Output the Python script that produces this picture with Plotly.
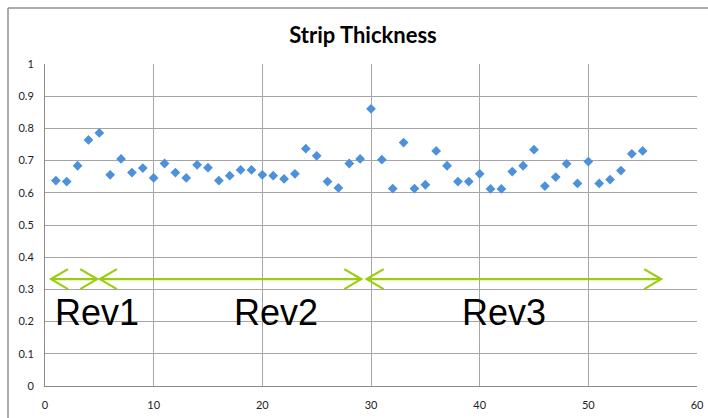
import plotly.graph_objects as go

# Strip thickness measurements, one per sample
sample_no = list(range(1, 56))
thickness = [
    0.638, 0.635, 0.684, 0.764, 0.786, 0.656, 0.705, 0.663, 0.677, 0.646,
    0.691, 0.663, 0.646, 0.687, 0.678, 0.638, 0.653, 0.671, 0.671, 0.656,
    0.653, 0.643, 0.659, 0.737, 0.715, 0.635, 0.615, 0.691, 0.705, 0.861,
    0.703, 0.613, 0.756, 0.613, 0.625, 0.730, 0.684, 0.635, 0.635, 0.659,
    0.612, 0.612, 0.666, 0.684, 0.734, 0.621, 0.649, 0.690, 0.629, 0.697,
    0.629, 0.641, 0.669, 0.721, 0.730,
]

# Revision spans (arrow extents along x) and their labels
rev_labels = ["Rev1", "Rev2", "Rev3"]
rev_start = [0.55, 5.05, 29.6]
rev_end = [4.8, 29.1, 56.7]
rev_label_x = [4.8, 21.3, 42.2]
arrow_y = 0.332
label_y = 0.227

# Axis ranges / ticks
x_range = [0, 60]
y_range = [0, 1]
x_ticks = [0, 10, 20, 30, 40, 50, 60]
y_ticks = [0, 0.1, 0.2, 0.3, 0.4, 0.5, 0.6, 0.7, 0.8, 0.9, 1]

W, H = 708, 418
M = dict(l=45, r=11, t=64, b=32)
plot_w = W - M["l"] - M["r"]
plot_h = H - M["t"] - M["b"]

# chevron size in pixels, converted to data units
head_px_x, head_px_y = 17, 10
hx = head_px_x * (x_range[1] - x_range[0]) / plot_w
hy = head_px_y * (y_range[1] - y_range[0]) / plot_h

ARROW = "#9acd0e"

fig = go.Figure()

for s, e in zip(rev_start, rev_end):
    xs = [s, e, None,
          s + hx, s, s + hx, None,
          e - hx, e, e - hx]
    ys = [arrow_y, arrow_y, None,
          arrow_y + hy, arrow_y, arrow_y - hy, None,
          arrow_y + hy, arrow_y, arrow_y - hy]
    fig.add_trace(go.Scatter(
        x=xs, y=ys, mode="lines",
        line=dict(color=ARROW, width=2.2),
        hoverinfo="skip", showlegend=False, cliponaxis=False,
    ))

fig.add_trace(go.Scatter(
    x=sample_no, y=thickness, mode="markers",
    marker=dict(symbol="diamond", size=7.5, color="#4c91d9",
                line=dict(width=0)),
    showlegend=False, name="Strip Thickness",
))

for lab, lx in zip(rev_labels, rev_label_x):
    fig.add_annotation(
        x=lx, y=label_y, text=lab, showarrow=False,
        xanchor="center", yanchor="middle",
        font=dict(family="Liberation Sans, Arial", size=36, color="#000000"),
    )

GRID = "#a6a6a6"
TICKFONT = dict(family="Lato, Open Sans, sans-serif", size=11, color="#222222")

fig.update_xaxes(
    range=x_range, tickvals=x_ticks, showgrid=True, gridcolor=GRID,
    gridwidth=1, showline=True, linecolor="#8c8c8c", linewidth=1,
    zeroline=False, mirror=False, ticks="", tickfont=TICKFONT,
    ticklabelstandoff=9, fixedrange=True, automargin=False,
)
fig.update_yaxes(
    range=y_range, tickvals=y_ticks, showgrid=True, gridcolor=GRID,
    gridwidth=1, showline=True, linecolor="#8c8c8c", linewidth=1,
    zeroline=False, ticks="", tickfont=TICKFONT,
    ticklabelstandoff=8, fixedrange=True, automargin=False,
)

# chart frame (left and top edges visible within the window)
fx0 = (8 - M["l"]) / plot_w
fy1 = (H - M["b"] - 8) / plot_h
fig.add_shape(type="line", xref="paper", yref="paper",
              x0=fx0, x1=fx0, y0=-1, y1=fy1,
              line=dict(color="#8f8f8f", width=1.5))
fig.add_shape(type="line", xref="paper", yref="paper",
              x0=fx0, x1=2, y0=fy1, y1=fy1,
              line=dict(color="#8f8f8f", width=1.5))

fig.update_layout(
    width=W, height=H, margin=M,
    paper_bgcolor="white", plot_bgcolor="white",
    title=dict(text="<b>Strip Thickness</b>", x=363 / W, xanchor="center",
               y=1 - 35 / H, yanchor="middle",
               font=dict(family="Lato, Open Sans, sans-serif", size=22,
                         color="#000000")),
)

fig.write_html("out.html")
